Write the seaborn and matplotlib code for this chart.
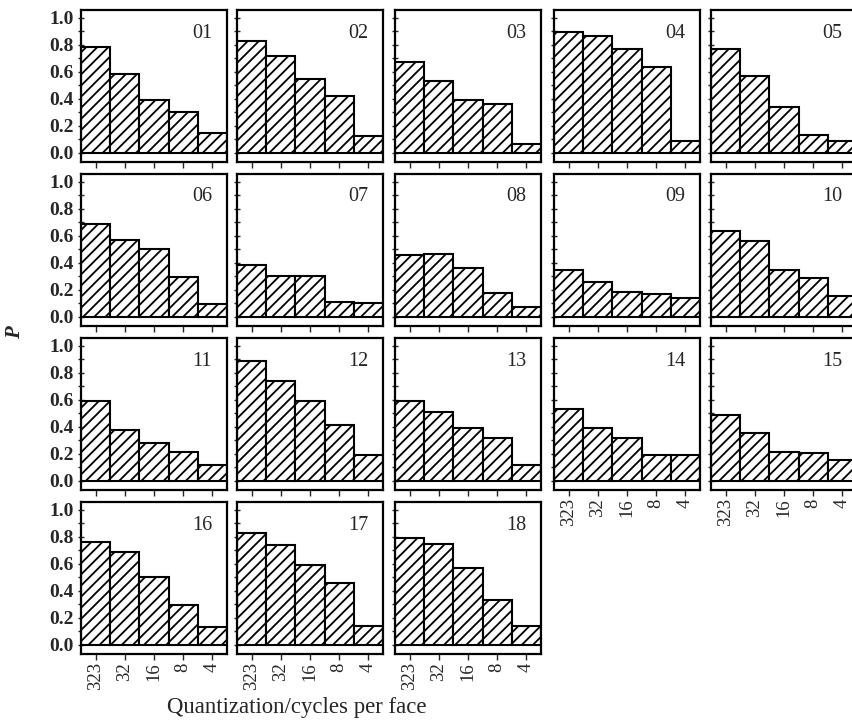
import matplotlib
matplotlib.use("Agg")
import matplotlib.pyplot as plt
import seaborn as sns
import pandas as pd
from matplotlib.ticker import MultipleLocator

categories = ["323", "32", "16", "8", "4"]
panel_names = ["01", "02", "03", "04", "05", "06", "07", "08", "09", "10",
               "11", "12", "13", "14", "15", "16", "17", "18"]
p01 = [0.785, 0.588, 0.395, 0.300, 0.148]
p02 = [0.827, 0.716, 0.548, 0.420, 0.128]
p03 = [0.674, 0.536, 0.395, 0.360, 0.070]
p04 = [0.896, 0.864, 0.770, 0.635, 0.090]
p05 = [0.770, 0.573, 0.338, 0.133, 0.090]
p06 = [0.690, 0.570, 0.502, 0.296, 0.097]
p07 = [0.386, 0.300, 0.300, 0.112, 0.105]
p08 = [0.460, 0.470, 0.360, 0.177, 0.072]
p09 = [0.346, 0.260, 0.187, 0.172, 0.142]
p10 = [0.634, 0.565, 0.348, 0.286, 0.152]
p11 = [0.595, 0.378, 0.284, 0.215, 0.116]
p12 = [0.889, 0.743, 0.595, 0.415, 0.195]
p13 = [0.595, 0.514, 0.390, 0.316, 0.118]
p14 = [0.533, 0.390, 0.321, 0.190, 0.190]
p15 = [0.489, 0.353, 0.217, 0.205, 0.156]
p16 = [0.766, 0.690, 0.506, 0.297, 0.130]
p17 = [0.829, 0.743, 0.594, 0.458, 0.141]
p18 = [0.796, 0.746, 0.569, 0.335, 0.141]
panel_values = [p01, p02, p03, p04, p05, p06, p07, p08, p09, p10,
                p11, p12, p13, p14, p15, p16, p17, p18]

sns.set_style("ticks")
plt.rcParams["font.family"] = ["Liberation Serif", "DejaVu Serif"]
plt.rcParams["hatch.linewidth"] = 1.3
plt.rcParams["hatch.color"] = "black"

W, H = 853, 720
fig = plt.figure(figsize=(W / 100, H / 100), dpi=100)

col_lefts = [81, 237, 395, 554, 711]
row_tops = [10, 174, 338, 502]
pw, ph = 146, 152

for i, (name, vals) in enumerate(zip(panel_names, panel_values)):
    r, c = divmod(i, 5)
    left = col_lefts[c] / W
    bottom = 1 - (row_tops[r] + ph) / H
    ax = fig.add_axes([left, bottom, pw / W, ph / H])
    df = pd.DataFrame({"q": categories, "P": vals})
    sns.barplot(data=df, x="q", y="P", order=categories, ax=ax,
                color="white", edgecolor="black", linewidth=1.5,
                width=1.0, saturation=1)
    for patch in ax.patches:
        patch.set_hatch("///")
        patch.set_facecolor("white")
        patch.set_edgecolor("black")
    ax.set_xlim(-0.5, 4.5)
    ax.set_ylim(-0.067, 1.059)
    ax.set_xlabel("")
    ax.set_ylabel("")
    for s in ax.spines.values():
        s.set_linewidth(1.6)
        s.set_color("black")
    ax.yaxis.set_major_locator(MultipleLocator(0.2))
    ax.yaxis.set_minor_locator(MultipleLocator(0.1))
    ax.tick_params(axis="y", which="both", direction="inout", length=4,
                   width=1.0, pad=3, labelsize=14)
    ax.tick_params(axis="x", direction="out", length=4, width=1.0,
                   pad=2, labelsize=13.5)
    if c == 0:
        ax.set_yticks([0, 0.2, 0.4, 0.6, 0.8, 1.0])
        ax.set_yticklabels(["0.0", "0.2", "0.4", "0.6", "0.8", "1.0"],
                           fontweight="bold")
    else:
        ax.tick_params(axis="y", which="both", labelleft=False)
    has_below = (i + 5) < len(panel_names)
    if has_below:
        ax.tick_params(axis="x", labelbottom=False)
    else:
        ax.set_xticks(range(len(categories)))
        ax.set_xticklabels(categories, rotation=90, va="top", ha="center")
    ax.text(1 - 15 / pw, 1 - 23 / ph, name, transform=ax.transAxes,
            ha="right", va="center", fontsize=14.5)

fig.text(297 / W, 1 - 708 / H, "Quantization/cycles per face",
         ha="center", va="center", fontsize=16.4)
fig.text(15 / W, 1 - 333 / H, "P", rotation=90, ha="center", va="center",
         fontsize=15, fontstyle="italic", fontweight="bold")

fig.savefig("out.png", dpi=100)
